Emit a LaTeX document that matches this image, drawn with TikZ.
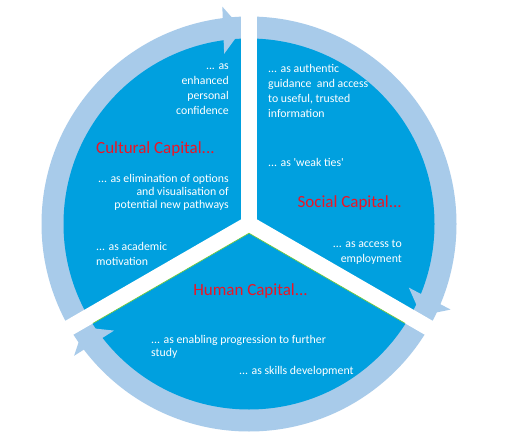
\documentclass[tikz,border=0pt]{standalone}
\usepackage{fontspec}
\setmainfont{Carlito}
\usetikzlibrary{calc}
\definecolor{sectorblue}{RGB}{0,160,223}
\definecolor{ringblue}{RGB}{168,203,234}
\definecolor{capred}{RGB}{237,20,36}
\definecolor{edgegreen}{RGB}{110,200,60}
\newcommand\rlines[1]{\begin{tabular}[t]{@{}r@{}}#1\end{tabular}}
\newcommand\llines[1]{\begin{tabular}[t]{@{}l@{}}#1\end{tabular}}
\begin{document}
\begin{tikzpicture}[x=1pt,y=1pt,
  body/.style={text=white, inner sep=0pt, font=\fontsize{11.8}{15}\selectfont},
  bodytight/.style={text=white, inner sep=0pt, font=\fontsize{11.8}{13}\selectfont},
  heading/.style={text=capred, inner sep=0pt, font=\fontsize{17}{20}\selectfont},
  arrowhead/.style={fill=ringblue},
  gapline/.style={draw=white, line width=16pt},
  greenedge/.style={draw=edgegreen, line width=0.7pt},
]
\useasboundingbox (0,0) rectangle (516,445);
\fill[white] (0,0) rectangle (516,445);
\coordinate (C) at (249,221);
% ring and disc
\fill[ringblue] (C) circle (207.5);
\fill[sectorblue] (C) circle (185.5);
% arrow heads
\foreach \g/\n in {90/a,330/b,210/c}{
  \fill[arrowhead] ($(C)+(\g+2:195)$) coordinate (tip\n)
     -- ($(C)+(\g+7:219)$) coordinate (outer\n)
     -- ($(C)+(\g+8.3:172)$) coordinate (inner\n) -- cycle;
}
% white gaps
\foreach \a in {90,210,330}{
  \draw[gapline] (C) -- ($(C)+(\a:224)$);
}
% green edge of the lower sector
\coordinate (apex) at ($(C)+(0,-9.24)$);
\draw[greenedge] ($(apex)+(210:180)$) coordinate (hl) -- (apex) -- ($(apex)+(330:180)$) coordinate (hr);
% Cultural capital
\node[body, anchor=base east] (cconf) at (229,375.5) {\rlines{... as\\enhanced\\personal\\confidence}};
\node[heading, anchor=base west] (cultural) at (96,291.5) {Cultural Capital...};
\node[bodytight, anchor=base east] (celim) at (229,262.5) {\rlines{... as elimination of options\\and visualisation of\\potential new pathways}};
\node[body, anchor=base west] (cacad) at (96,194.5) {\llines{... as academic\\motivation}};
% Social capital
\node[body, anchor=base west] (sauth) at (268,372.5) {\llines{... as authentic\\guidance~~and access\\to useful, trusted\\information}};
\node[body, anchor=base west] (sweak) at (268,278.5) {... as \textquotesingle weak ties\textquotesingle};
\node[heading, anchor=base east] (social) at (402,237.5) {Social Capital...};
\node[body, anchor=base east] (semp) at (402,197.5) {\rlines{... as access to\\employment}};
% Human capital
\node[heading, anchor=base] (human) at (250.5,149.5) {Human Capital...};
\node[bodytight, anchor=base west] (hprog) at (151,101.5) {\llines{... as enabling progression to further\\study}};
\node[body, anchor=base west] (hskill) at (239,70.5) {... as skills development};
\end{tikzpicture}
\end{document}
